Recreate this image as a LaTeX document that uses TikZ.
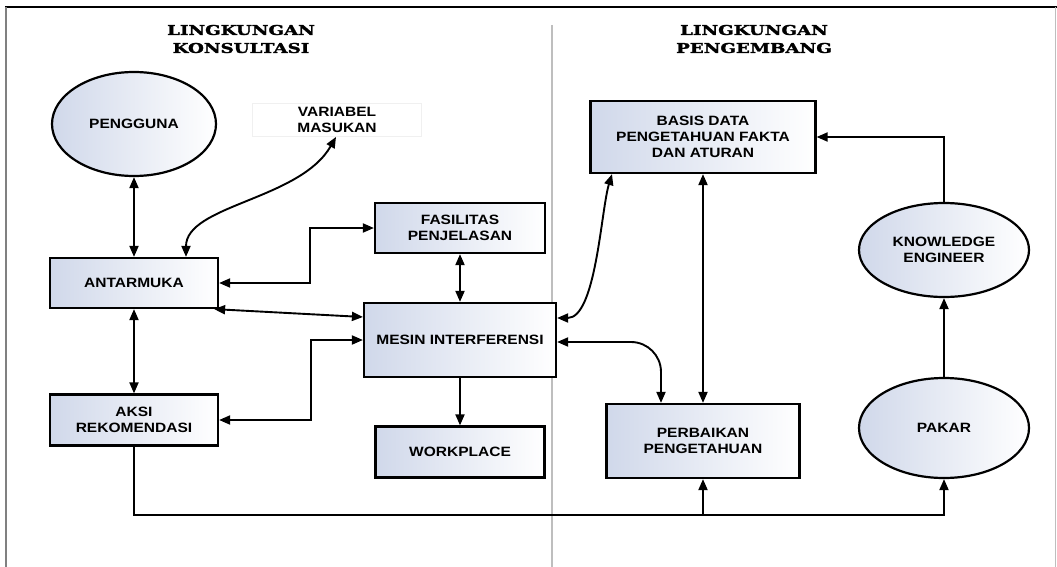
\documentclass[tikz,border=0pt]{standalone}
\usepackage{fontspec}
\usetikzlibrary{shapes.geometric,arrows.meta}
\newfontfamily\boxfont[FakeStretch=1.15]{Liberation Sans}
\newfontfamily\titlefont[FakeStretch=1.35,FakeBold=2]{DejaVu Serif}
\definecolor{boxtint}{RGB}{208,216,234}
\definecolor{rulegray}{RGB}{190,190,190}

\begin{document}
\begin{tikzpicture}[x=1pt, y=-1pt,
  >={Triangle[length=11pt,width=9pt]},
  box/.style={draw, line width=2.2pt, left color=boxtint, right color=white, align=center, inner sep=2pt,
    font=\boxfont\bfseries\fontsize{13.5}{16}\selectfont},
  oval/.style={box, ellipse},
  varbox/.style={draw=gray!12, line width=0.8pt, align=center, inner sep=2pt,
    font=\boxfont\bfseries\fontsize{13.5}{15.5}\selectfont},
  ttl/.style={align=center, font=\titlefont\bfseries\fontsize{13.5}{18}\selectfont},
  conn/.style={line width=1.9pt}]
\useasboundingbox (0,0) rectangle (1057,567);
% frame and divider
\draw[line width=1.2pt] (5,7) -- (1057,7);
\draw[line width=1.5pt, gray] (6,7) -- (6,567);
\draw[rulegray, line width=0.8pt] (1055,7) -- (1055,567);
\draw[rulegray, line width=1.2pt] (552,25) -- (552,567);
% titles
\node[ttl] (tkons) at (241,39) {LINGKUNGAN\\KONSULTASI};
\node[ttl] (tpeng) at (754,39) {LINGKUNGAN\\PENGEMBANG};
% lingkungan konsultasi
\node[oval, minimum width=164, minimum height=104] (peng) at (134,124) {PENGGUNA};
\node[varbox, minimum width=169, minimum height=33] (var) at (337,120) {VARIABEL\\MASUKAN};
\node[box, minimum width=168, minimum height=50] (antar) at (134,283) {ANTARMUKA};
\node[box, minimum width=168, minimum height=51] (aksi) at (134,420) {AKSI\\REKOMENDASI};
\node[box, minimum width=170, minimum height=50] (fas) at (460,228) {FASILITAS\\PENJELASAN};
\node[box, minimum width=192, minimum height=74] (mesin) at (460,340) {MESIN INTERFERENSI};
\node[box, minimum width=169, minimum height=51] (work) at (460,452) {WORKPLACE};
% lingkungan pengembang
\node[box, minimum width=225, minimum height=72] (basis) at (703,137) {BASIS DATA\\PENGETAHUAN FAKTA\\DAN ATURAN};
\node[box, minimum width=193, minimum height=74] (perb) at (703,441) {PERBAIKAN\\PENGETAHUAN};
\node[oval, minimum width=170, minimum height=94] (ke) at (944,250) {KNOWLEDGE\\ENGINEER};
\node[oval, minimum width=170, minimum height=100] (pakar) at (944,428) {PAKAR};
\coordinate (bus) at (703,515);
% connectors
\draw[conn, <->] (peng) -- (antar);
\draw[conn, <->] ([xshift=52pt]antar.north) .. controls (186,205) and (300,200) .. ([xshift=-1pt]var.south);
\draw[conn, <->] (antar.east) -- ++(91,0) |- (fas.west);
\draw[conn, <->] (fas) -- (mesin);
\draw[conn, <->] ([xshift=-5pt]antar.south east) -- ([yshift=23pt]mesin.west);
\draw[conn, <->] (aksi.east) -- ++(92,0) |- (mesin.west);
\draw[conn, <->] (antar) -- (aksi);
\draw[conn, ->] (mesin) -- (work);
\draw[conn, <->] ([yshift=22pt]mesin.east) .. controls (596,318) and (601,210) .. ([xshift=-91pt]basis.south);
\draw[conn, <->, rounded corners=30pt] ([yshift=-2pt]mesin.east) -| ([xshift=-42pt]perb.north);
\draw[conn, <->] (basis) -- (perb);
\draw[conn, ->] (ke.north) |- (basis.east);
\draw[conn, ->] (pakar) -- (ke);
\draw[conn, ->] (aksi.south) |- (bus) -| (pakar.south);
\draw[conn, ->] (bus) -- (perb.south);
\end{tikzpicture}
\end{document}
